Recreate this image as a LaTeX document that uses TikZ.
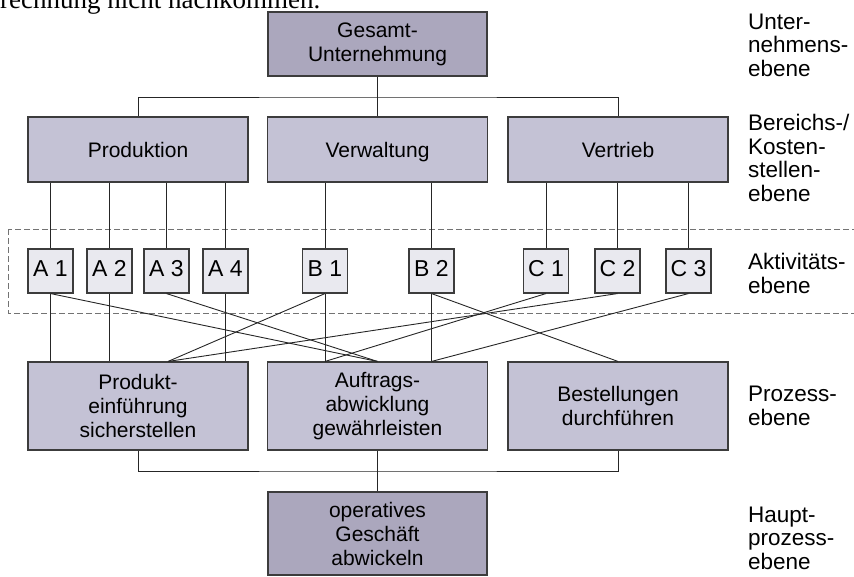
\documentclass[tikz,border=0pt]{standalone}
\usepackage{fontspec}
\setmainfont{Liberation Sans}
\newfontfamily\pagefont{Liberation Serif}
\usetikzlibrary{calc}

\definecolor{boxdark}{RGB}{171,167,189}
\definecolor{boxmid}{RGB}{196,194,213}
\definecolor{boxlight}{RGB}{233,233,239}
\definecolor{rim}{RGB}{60,60,60}

\tikzset{
  ebox/.style={draw=rim, line width=1.1pt, inner sep=0pt, align=center, font=\fontsize{21}{24}\selectfont},
  topbox/.style={ebox, fill=boxdark, minimum width=219pt, minimum height=64pt},
  midbox/.style={ebox, fill=boxmid, minimum width=220pt, minimum height=65pt, text height=15pt, text depth=0pt},
  actbox/.style={ebox, fill=boxlight, minimum width=45pt, minimum height=44pt, font=\fontsize{23}{26}\selectfont, text height=16.5pt, text depth=6pt},
  procbox/.style={ebox, fill=boxmid, minimum width=220pt, minimum height=88pt},
  levlabel/.style={anchor=west, align=left, inner sep=0pt, font=\fontsize{22.5}{23.5}\selectfont},
  link/.style={line width=0.9pt, black!85},
  dashbox/.style={draw=black!55, line width=1pt, dash pattern=on 6pt off 3pt}
}

\begin{document}
\begin{tikzpicture}[x=1pt,y=-1pt]
  \useasboundingbox (0,0) rectangle (854,576);
  \clip (0,0) rectangle (854,576);

  %page text above
  \node[anchor=base west, inner sep=0pt, font=\pagefont\fontsize{27}{30}\selectfont] (pagetext) at (0,8) {rechnung nicht nachkommen.};

  %Aktivitaetsebene frame
  \draw[dashbox] (8,229) rectangle (880,313);

  %Unternehmen
  \node[topbox] (gesamt) at (377.5,44) {Gesamt-\\Unternehmung};

  %Bereiche
  \node[midbox] (prod) at (138,149.5) {Produktion};
  \node[midbox] (verw) at (377.5,149.5) {Verwaltung};
  \node[midbox] (vertr) at (618,149.5) {Vertrieb};

  %Aktivitaeten
  \node[actbox] (a1) at (50.5,271) {A 1};
  \node[actbox] (a2) at (109.5,271) {A 2};
  \node[actbox] (a3) at (166.5,271) {A 3};
  \node[actbox] (a4) at (225.5,271) {A 4};
  \node[actbox] (b1) at (325,271) {B 1};
  \node[actbox] (b2) at (431.5,271) {B 2};
  \node[actbox] (c1) at (546,271) {C 1};
  \node[actbox] (c2) at (617.5,271) {C 2};
  \node[actbox] (c3) at (688.5,271) {C 3};

  %Prozesse
  \node[procbox] (einf) at (138,406) {Produkt-\\einführung\\sicherstellen};
  \node[procbox] (auftr) at (377.5,406) {Auftrags-\\abwicklung\\gewährleisten};
  \node[procbox] (best) at (618,406) {Bestellungen\\durchführen};

  %Hauptprozess
  \node[topbox, minimum height=83pt] (oper) at (377.5,533.5) {operatives\\Geschäft\\abwickeln};

  %Ebenen
  \node[levlabel] (levU) at (748,45) {Unter-\\nehmens-\\ebene};
  \node[levlabel] (levB) at (748,158) {Bereichs-/\\Kosten-\\stellen-\\ebene};
  \node[levlabel] (levA) at (748,273.5) {Aktivitäts-\\ebene};
  \node[levlabel] (levP) at (748,406) {Prozess-\\ebene};
  \node[levlabel] (levH) at (748,538) {Haupt-\\prozess-\\ebene};

  %bus lines
  \coordinate (busTop) at (377.5,97);
  \coordinate (busLow) at (377.5,471);
  \coordinate (einfB) at ($(einf.north)+(30,0)$);

  \draw[link] (gesamt.south) -- (verw.north);
  \draw[link] (prod.north) |- (busTop) -| (vertr.north);
  \draw[link] (einf.south) |- (busLow) -| (best.south);
  \draw[link] (auftr.south) -- (oper.north);

  %Bereich to Aktivitaet
  \draw[link] (a1.north) -- (a1.north |- prod.south);
  \draw[link] (a2.north) -- (a2.north |- prod.south);
  \draw[link] (a3.north) -- (a3.north |- prod.south);
  \draw[link] (a4.north) -- (a4.north |- prod.south);
  \draw[link] (b1.north) -- (b1.north |- verw.south);
  \draw[link] (b2.north) -- (b2.north |- verw.south);
  \draw[link] (c1.north) -- (c1.north |- vertr.south);
  \draw[link] (c2.north) -- (c2.north |- vertr.south);
  \draw[link] (c3.north) -- (c3.north |- vertr.south);

  %Aktivitaet to Prozess
  \draw[link] (a1.south) -- (a1.south |- einf.north);
  \draw[link] (a1.south) -- (auftr.north);
  \draw[link] (a2.south) -- (a2.south |- einf.north);
  \draw[link] (a3.south) -- (auftr.north);
  \draw[link] (a4.south) -- (a4.south |- einf.north);
  \draw[link] (b1.south) -- (einfB);
  \draw[link] (b1.south) -- (b1.south |- auftr.north);
  \draw[link] (b2.south) -- (b2.south |- auftr.north);
  \draw[link] (b2.south) -- (best.north);
  \draw[link] (c1.south) -- (b1.south |- auftr.north);
  \draw[link] (c2.south) -- (einfB);
  \draw[link] (c3.south) -- (b2.south |- auftr.north);
\end{tikzpicture}
\end{document}
